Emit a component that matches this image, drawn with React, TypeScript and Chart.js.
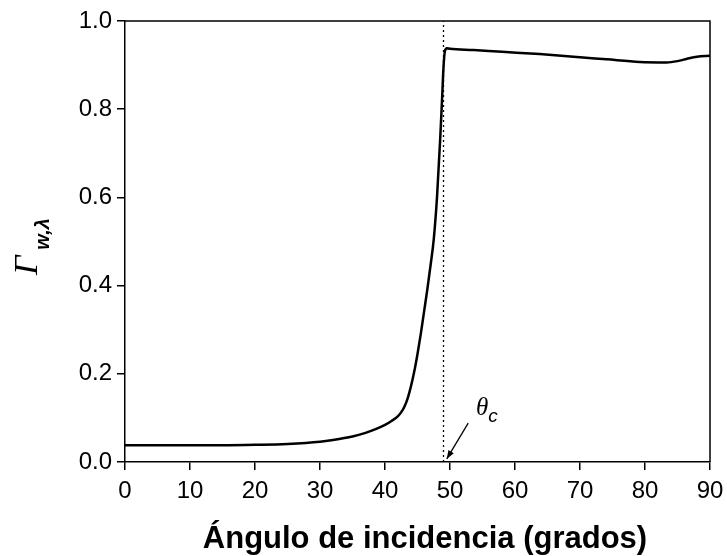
import React, { useEffect, useRef } from "react";
import { Chart, registerables } from "chart.js";

Chart.register(...registerables);

const angles = [0, 5, 10, 15, 20, 25, 30, 32, 35, 37, 40, 41, 42, 42.5, 43, 43.5, 44, 44.5, 45, 45.5, 46, 46.5, 47, 47.5, 48, 48.5, 48.8, 49, 49.2, 49.5, 50, 53.6, 58, 63.8, 70, 74.1, 79.2, 83.3, 85, 86.4, 88, 90];
const gamma = [0.038, 0.038, 0.038, 0.038, 0.039, 0.041, 0.046, 0.05, 0.058, 0.066, 0.084, 0.093, 0.104, 0.113, 0.126, 0.145, 0.172, 0.205, 0.245, 0.29, 0.34, 0.39, 0.445, 0.505, 0.6, 0.735, 0.83, 0.895, 0.93, 0.938, 0.937, 0.934, 0.93, 0.925, 0.918, 0.913, 0.907, 0.906, 0.909, 0.914, 0.919, 0.921];

const criticalAngle = 49;
const criticalLine = [0, 1];
const arrowTail = [52.8, 0.088];
const arrowTip = [49.5, 0.007];
const labelPos = [54.0, 0.107];

const xTitle = "Ángulo de incidencia (grados)";
const yTitleMain = "Γ";
const yTitleSub = "w,λ";
const critLabel = "θ";
const critSub = "c";

const SANS = '"Liberation Sans", Arial, sans-serif';
const SERIF = '"Liberation Serif", "Times New Roman", serif';

const decorPlugin = {
  id: "decor",
  afterDraw(chart: any) {
    const { ctx, chartArea, scales } = chart;
    const xs = scales.x;
    const ys = scales.y;
    ctx.save();
    ctx.strokeStyle = "#000";
    ctx.lineWidth = 1.5;
    ctx.beginPath();
    ctx.moveTo(chartArea.left, chartArea.top);
    ctx.lineTo(chartArea.right, chartArea.top);
    ctx.lineTo(chartArea.right, chartArea.bottom);
    ctx.stroke();

    ctx.fillStyle = "#000";
    ctx.font = `bold 31px ${SANS}`;
    ctx.textAlign = "center";
    ctx.textBaseline = "alphabetic";
    ctx.fillText(xTitle, 425, 548);

    ctx.save();
    ctx.translate(37, 275);
    ctx.rotate(-Math.PI / 2);
    ctx.textAlign = "left";
    ctx.font = `italic 34px ${SERIF}`;
    ctx.fillText(yTitleMain, 0, 0);
    const w = ctx.measureText(yTitleMain).width;
    ctx.font = `bold italic 20px ${SANS}`;
    ctx.fillText(yTitleSub, w + 6, 12);
    ctx.restore();

    const tx = xs.getPixelForValue(arrowTail[0]);
    const ty = ys.getPixelForValue(arrowTail[1]);
    const hx = xs.getPixelForValue(arrowTip[0]);
    const hy = ys.getPixelForValue(arrowTip[1]);
    ctx.lineWidth = 1.3;
    ctx.beginPath();
    ctx.moveTo(tx, ty);
    ctx.lineTo(hx, hy);
    ctx.stroke();
    const ang = Math.atan2(hy - ty, hx - tx);
    const L = 9;
    const spread = 0.35;
    ctx.beginPath();
    ctx.moveTo(hx, hy);
    ctx.lineTo(hx - L * Math.cos(ang - spread), hy - L * Math.sin(ang - spread));
    ctx.lineTo(hx - L * Math.cos(ang + spread), hy - L * Math.sin(ang + spread));
    ctx.closePath();
    ctx.fill();

    const lx = xs.getPixelForValue(labelPos[0]);
    const ly = ys.getPixelForValue(labelPos[1]);
    ctx.textAlign = "left";
    ctx.font = `italic 25px ${SERIF}`;
    ctx.fillText(critLabel, lx, ly);
    const tw = ctx.measureText(critLabel).width;
    ctx.font = `italic 19px ${SANS}`;
    ctx.fillText(critSub, lx + tw, ly + 7);
    ctx.restore();
  },
};

export default function App() {
  const ref = useRef<HTMLCanvasElement | null>(null);
  useEffect(() => {
    if (!ref.current) return;
    const chart = new Chart(ref.current, {
      type: "line",
      data: {
        datasets: [
          {
            data: angles.map((a, i) => ({ x: a, y: gamma[i] })),
            borderColor: "#000",
            borderWidth: 2.5,
            pointRadius: 0,
            cubicInterpolationMode: "monotone",
            fill: false,
          },
          {
            data: criticalLine.map((v) => ({ x: criticalAngle, y: v })),
            borderColor: "#000",
            borderWidth: 1.3,
            borderDash: [2, 3],
            pointRadius: 0,
            fill: false,
          },
        ],
      },
      plugins: [decorPlugin],
      options: {
        animation: false,
        responsive: false,
        maintainAspectRatio: false,
        layout: { padding: { top: 21, right: 17, left: 0, bottom: 0 } },
        plugins: { legend: { display: false }, tooltip: { enabled: false } },
        scales: {
          x: {
            type: "linear",
            min: 0,
            max: 90,
            afterFit: (s: any) => {
              s.height = 94;
              s.paddingRight = 14;
              s.paddingLeft = 0;
            },
            ticks: {
              stepSize: 10,
              color: "#000",
              font: { family: SANS, size: 24 },
              padding: 7,
              maxRotation: 0,
            },
            grid: {
              drawOnChartArea: false,
              drawTicks: true,
              tickLength: 8,
              color: "#000",
              lineWidth: 1.5,
            },
            border: { color: "#000", width: 1.5 },
          },
          y: {
            min: 0,
            max: 1,
            afterFit: (s: any) => {
              s.width = 125;
            },
            ticks: {
              stepSize: 0.2,
              color: "#000",
              font: { family: SANS, size: 24 },
              padding: 5,
              callback: (v: any) => Number(v).toFixed(1),
            },
            grid: {
              drawOnChartArea: false,
              drawTicks: true,
              tickLength: 8,
              color: "#000",
              lineWidth: 1.5,
            },
            border: { color: "#000", width: 1.5 },
          },
        },
      },
    } as any);
    return () => chart.destroy();
  }, []);
  return (
    <div style={{ position: "absolute", left: 0, top: 0, width: 727, height: 556, background: "#fff" }}>
      <canvas ref={ref} width={727} height={556} style={{ width: 727, height: 556 }} />
    </div>
  );
}
